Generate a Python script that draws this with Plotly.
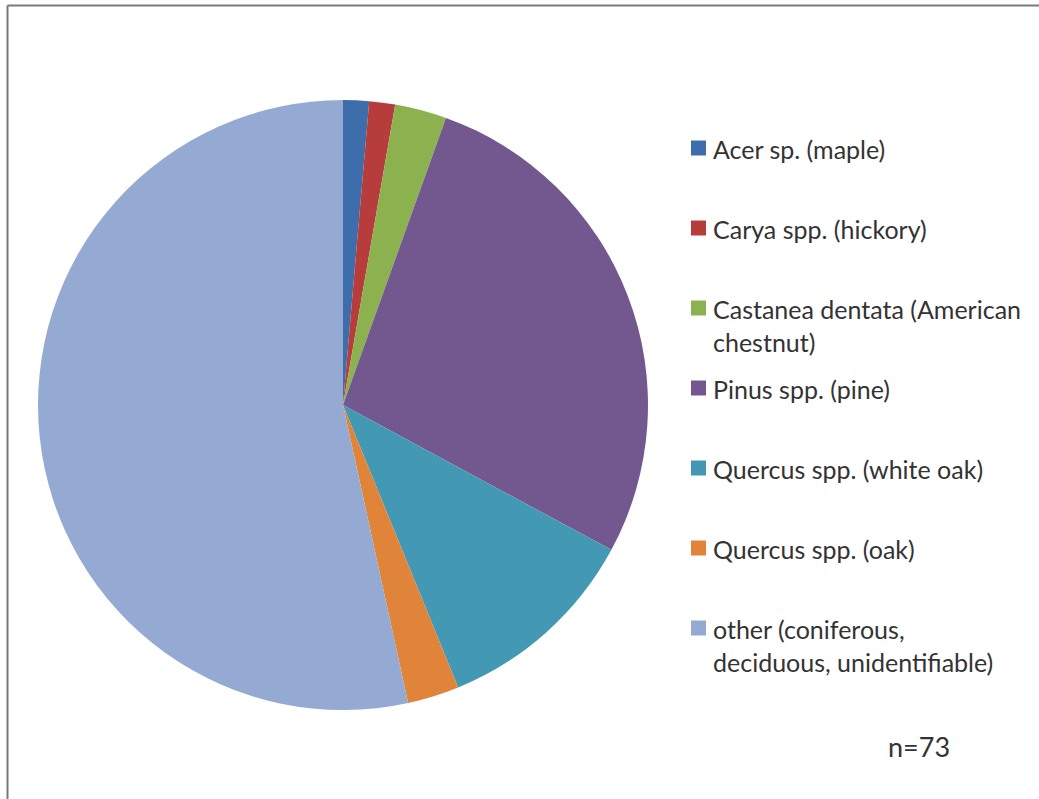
import plotly.graph_objects as go

W, H = 1039, 799

labels = [
    "Acer sp. (maple)",
    "Carya spp. (hickory)",
    "Castanea dentata (American<br>chestnut)",
    "Pinus spp. (pine)",
    "Quercus spp. (white oak)",
    "Quercus spp. (oak)",
    "other (coniferous,<br>deciduous, unidentifiable)",
]
counts = [1, 1, 2, 20, 8, 2, 39]
colors = ["#3D6DAB", "#B73D3C", "#8CB14F", "#72588F", "#4399B4", "#E0843A", "#94AAD2"]
note = "n=73"

def px(x):
    return x / W

def py(y):
    return 1 - y / H

fig = go.Figure(go.Pie(
    labels=labels,
    values=counts,
    marker=dict(colors=colors, line=dict(width=0)),
    sort=False,
    direction="clockwise",
    rotation=0,
    textinfo="none",
    hoverinfo="label+value",
    showlegend=False,
    domain=dict(x=[px(38), px(648)], y=[py(710), py(100)]),
))

annotations = []
shapes = []
font = dict(family="Lato, 'Open Sans', sans-serif", size=25, color="#333333")
for i, (lab, col) in enumerate(zip(labels, colors)):
    y0 = 148 + 80 * i
    shapes.append(dict(type="rect", xref="paper", yref="paper",
                       x0=px(691), x1=px(706), y0=py(y0 + 7.5), y1=py(y0 - 7.5),
                       fillcolor=col, line=dict(width=0)))
    for j, line in enumerate(lab.split("<br>")):
        annotations.append(dict(text=line, xref="paper", yref="paper",
                                x=px(711), y=py(y0 + 1 + 33 * j), xanchor="left", yanchor="middle",
                                showarrow=False, font=font))

annotations.append(dict(text=note, xref="paper", yref="paper", x=px(886), y=py(746),
                        xanchor="left", yanchor="middle", showarrow=False,
                        font=dict(family="Lato, 'Open Sans', sans-serif", size=27, color="#333333")))

# chart-area border (top and left edges visible)
shapes.append(dict(type="line", xref="paper", yref="paper", x0=px(7.5), x1=px(1045),
                   y0=py(5.5), y1=py(5.5), line=dict(color="#7a7a7a", width=2)))
shapes.append(dict(type="line", xref="paper", yref="paper", x0=px(7.5), x1=px(7.5),
                   y0=py(5.5), y1=py(805), line=dict(color="#7a7a7a", width=2)))

fig.update_layout(
    width=W, height=H,
    margin=dict(l=0, r=0, t=0, b=0),
    paper_bgcolor="white",
    plot_bgcolor="white",
    annotations=annotations,
    shapes=shapes,
)

fig.write_html("out.html",
               config={"displayModeBar": False},
               post_script="document.body.style.margin='0px';document.body.style.overflow='hidden';")
